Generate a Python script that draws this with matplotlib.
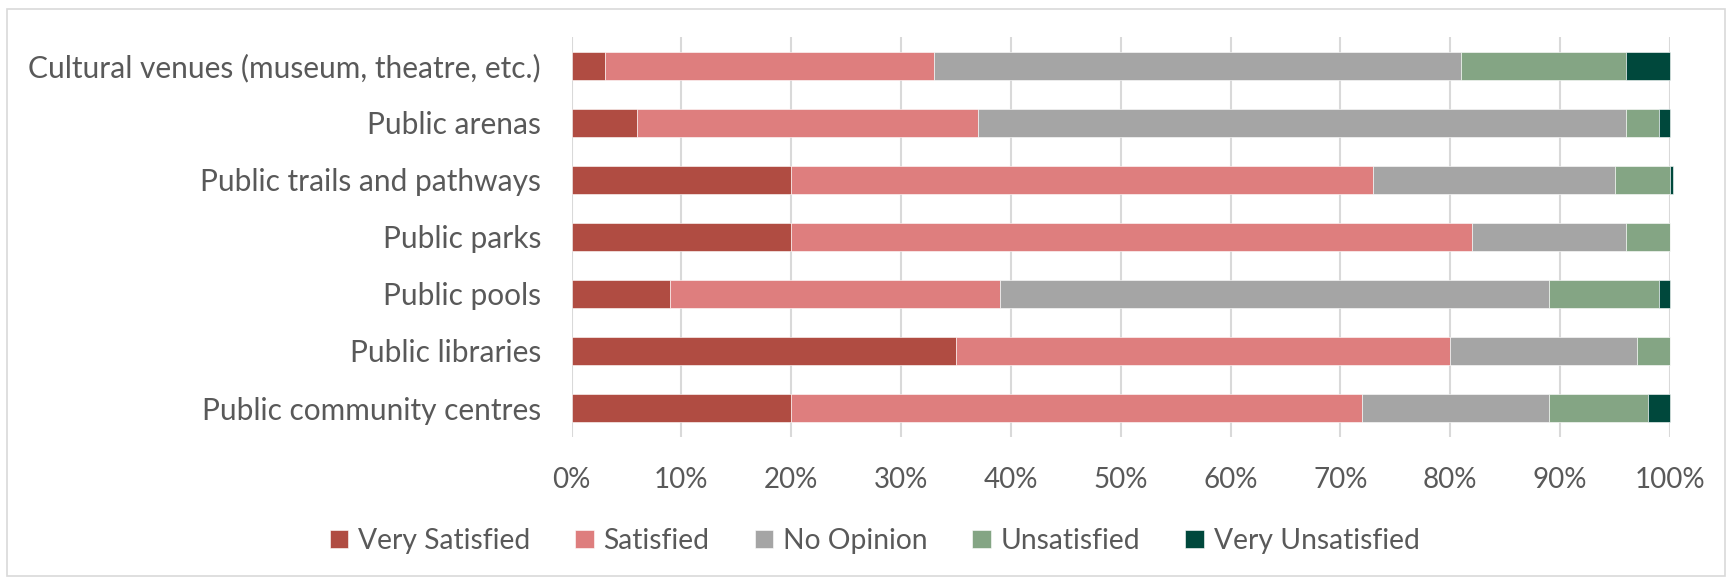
import matplotlib.pyplot as plt
import matplotlib.ticker as ticker
from matplotlib.patches import Rectangle
import numpy as np

plt.rcParams["font.family"] = ["Lato", "DejaVu Sans"]

# categories listed bottom to top
categories = [
    "Public community centres",
    "Public libraries",
    "Public pools",
    "Public parks",
    "Public trails and pathways",
    "Public arenas",
    "Cultural venues (museum, theatre, etc.)",
]
very_satisfied = [20, 35, 9, 20, 20, 6, 3]
satisfied = [52, 45, 30, 62, 53, 31, 30]
no_opinion = [17, 17, 50, 14, 22, 59, 48]
unsatisfied = [9, 3, 10, 4, 5, 3, 15]
very_unsatisfied = [2, 0, 1, 0, 0.3, 1, 4]

series_names = ["Very Satisfied", "Satisfied", "No Opinion", "Unsatisfied", "Very Unsatisfied"]
colors = ["#B04C42", "#DE7E7E", "#A5A5A5", "#84A584", "#00483C"]
text_color = "#595959"

fig = plt.figure(figsize=(17.32, 5.81), dpi=100)
ax = fig.add_axes([0.330, 0.2487, 0.6342, 0.6868])

y = np.arange(len(categories))
left = np.zeros(len(categories))
for name, vals, col in zip(series_names,
                           [very_satisfied, satisfied, no_opinion, unsatisfied, very_unsatisfied],
                           colors):
    vals = np.asarray(vals, dtype=float)
    ax.barh(y, vals, left=left, height=0.5, color=col, label=name,
            edgecolor="white", linewidth=0.4, zorder=2, clip_on=False)
    left += vals

ax.set_xlim(0, 100)
ax.set_ylim(-0.5, len(categories) - 0.5)
ax.xaxis.set_major_locator(ticker.MultipleLocator(10))
ax.xaxis.set_major_formatter(ticker.PercentFormatter(decimals=0))
ax.set_yticks(y)
ax.set_yticklabels(categories)
ax.grid(axis="x", color="#D9D9D9", linewidth=1.5, zorder=0)
ax.set_axisbelow(True)
for s in ax.spines.values():
    s.set_visible(False)
ax.tick_params(axis="both", length=0, colors=text_color)
ax.tick_params(axis="x", pad=22, labelsize=20)
ax.tick_params(axis="y", pad=22, labelsize=21.5)

fig.legend(loc="center", bbox_to_anchor=(0.505, 0.069), ncol=5, frameon=False,
           fontsize=20.3, labelcolor=text_color, handlelength=0.65, handleheight=0.65,
           handletextpad=0.35, columnspacing=1.6)

fig.patches.append(Rectangle((7 / 1732, 5 / 581), 1718 / 1732, 567 / 581,
                             transform=fig.transFigure, fill=False,
                             edgecolor="#D9D9D9", linewidth=1.2))

fig.savefig("out.png", dpi=100)
